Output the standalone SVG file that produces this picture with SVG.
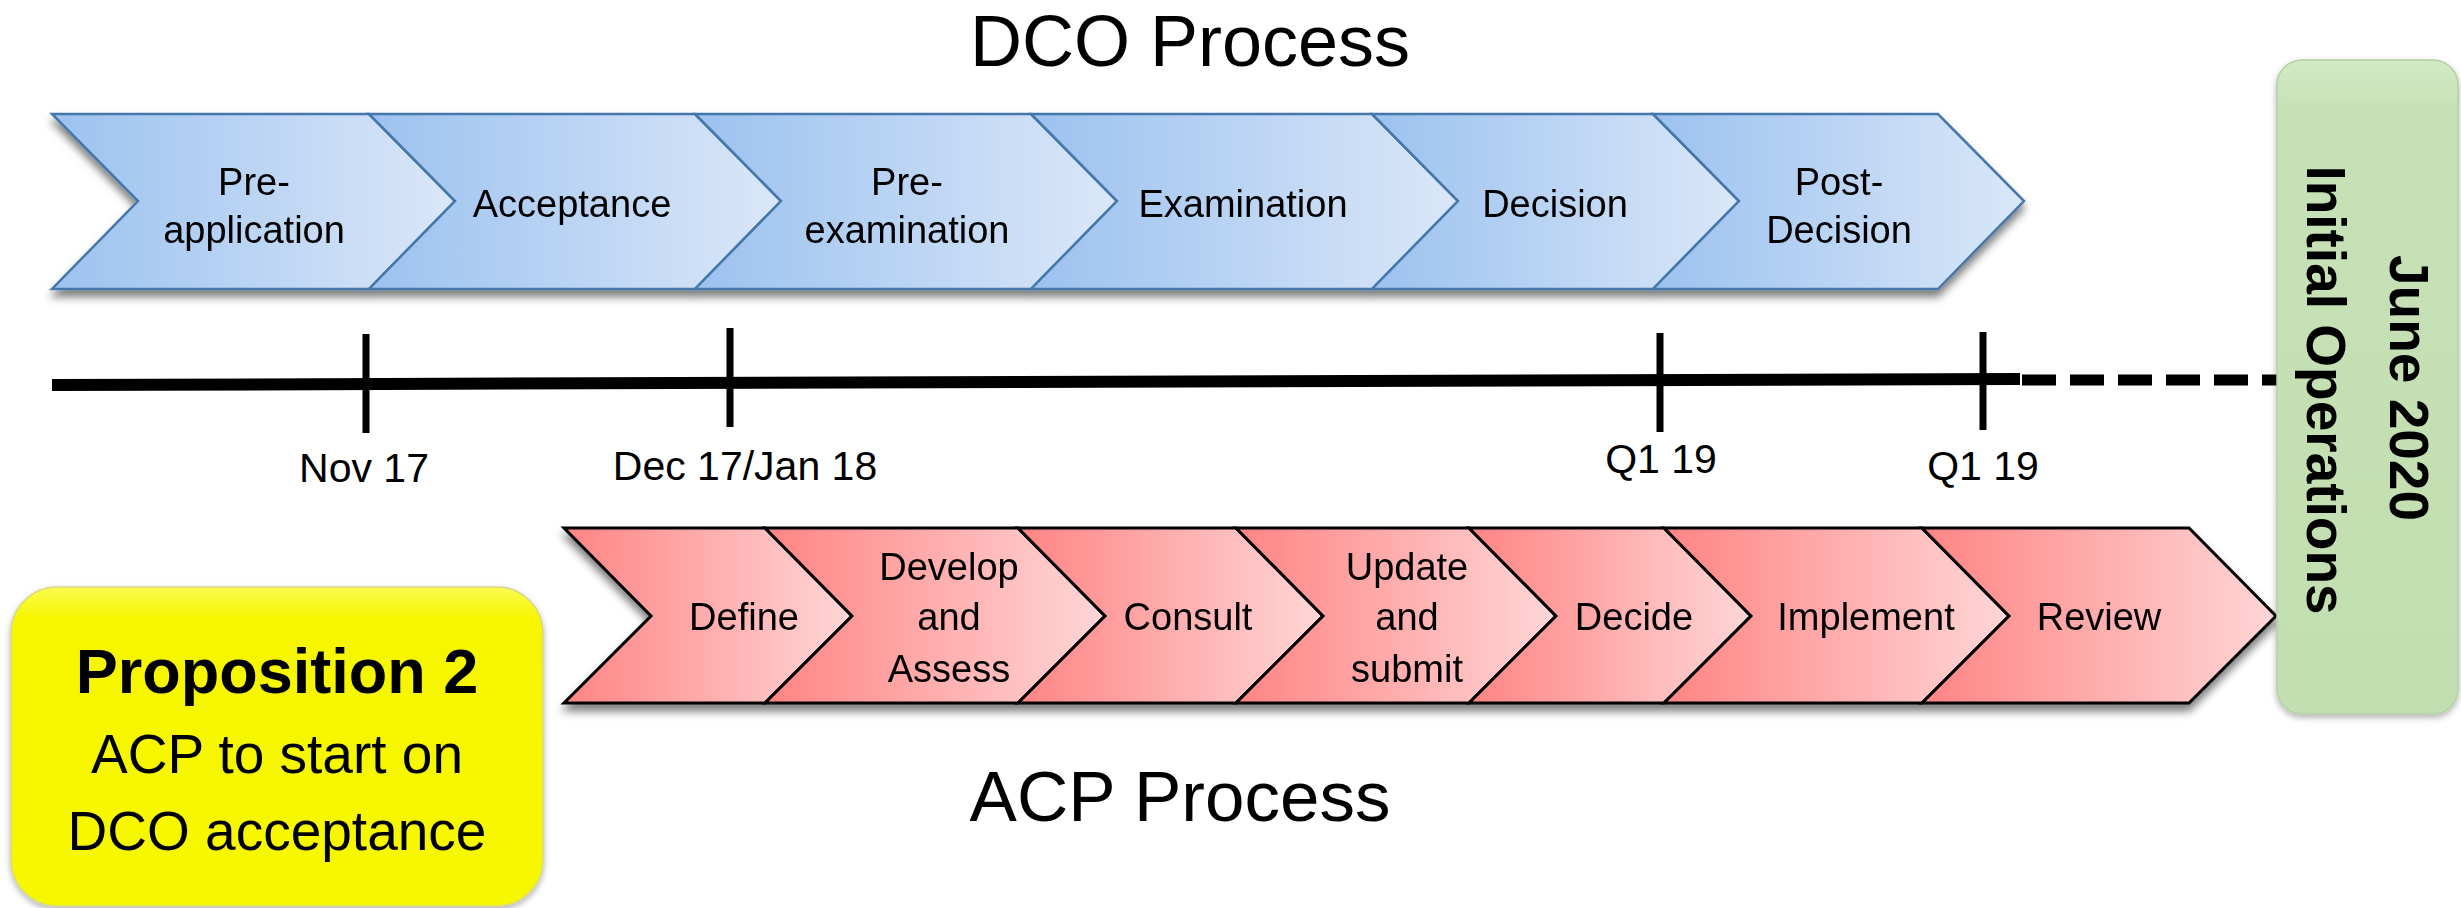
<svg xmlns="http://www.w3.org/2000/svg" width="2461" height="908" viewBox="0 0 2461 908">
<style>
text{font-family:"Liberation Sans",Arial,sans-serif;fill:#000}
.lbl{font-size:38px;text-anchor:middle}
.date{font-size:41px;text-anchor:middle}
.title{font-size:72px;text-anchor:middle}
.blue{fill:url(#gBlue);stroke:#4577aa;stroke-width:2.5;stroke-linejoin:miter}
.red{fill:url(#gRed);stroke:#000;stroke-width:3;stroke-linejoin:miter}
.tick{stroke:#000;stroke-width:7}
.green{font-size:55px;font-weight:bold;text-anchor:middle}
</style>
<defs>
<linearGradient id="gBlue" x1="0" y1="0" x2="1" y2="0">
<stop offset="0" stop-color="#9cc2ef"/>
<stop offset="1" stop-color="#dae7f8"/>
</linearGradient>
<linearGradient id="gRed" x1="0" y1="0" x2="1" y2="0">
<stop offset="0" stop-color="#ff8484"/>
<stop offset="1" stop-color="#ffd6d6"/>
</linearGradient>
<linearGradient id="gGreen" x1="0" y1="0" x2="0" y2="1">
<stop offset="0" stop-color="#d3eac5"/>
<stop offset="0.08" stop-color="#c6e1b6"/>
<stop offset="1" stop-color="#c2dfb1"/>
</linearGradient>
<linearGradient id="gYellow" x1="0" y1="0" x2="0" y2="1">
<stop offset="0" stop-color="#fbfb50"/>
<stop offset="0.1" stop-color="#f6f600"/>
<stop offset="1" stop-color="#f7f700"/>
</linearGradient>
<filter id="sh" x="-10%" y="-10%" width="120%" height="130%">
<feDropShadow dx="0" dy="7" stdDeviation="4" flood-color="#000" flood-opacity="0.5"/>
</filter>
<filter id="shSoft" x="-10%" y="-10%" width="120%" height="120%">
<feDropShadow dx="0" dy="3" stdDeviation="3" flood-color="#000" flood-opacity="0.3"/>
</filter>
</defs>

<text id="title-dco" class="title" x="1190" y="66">DCO Process</text>
<text id="title-acp" class="title" x="1180" y="821" style="font-size:71px">ACP Process</text>

<g id="dco-chevrons" filter="url(#sh)">
<g id="dco-preapplication">
<polygon class="blue" points="52,114 369,114 455,201 369,289 52,289 138,201"/>
<text class="lbl" x="254" y="195">Pre-</text>
<text class="lbl" x="254" y="243">application</text>
</g>
<g id="dco-acceptance">
<polygon class="blue" points="369,114 695,114 781,201 695,289 369,289 455,201"/>
<text class="lbl" x="572" y="217">Acceptance</text>
</g>
<g id="dco-preexamination">
<polygon class="blue" points="695,114 1031,114 1117,201 1031,289 695,289 781,201"/>
<text class="lbl" x="907" y="195">Pre-</text>
<text class="lbl" x="907" y="243">examination</text>
</g>
<g id="dco-examination">
<polygon class="blue" points="1031,114 1372,114 1458,201 1372,289 1031,289 1117,201"/>
<text class="lbl" x="1243" y="217">Examination</text>
</g>
<g id="dco-decision">
<polygon class="blue" points="1372,114 1653,114 1739,201 1653,289 1372,289 1458,201"/>
<text class="lbl" x="1555" y="217">Decision</text>
</g>
<g id="dco-postdecision">
<polygon class="blue" points="1653,114 1938,114 2024,201 1938,289 1653,289 1739,201"/>
<text class="lbl" x="1839" y="195">Post-</text>
<text class="lbl" x="1839" y="243">Decision</text>
</g>
</g>

<g id="timeline">
<line x1="52" y1="385" x2="2020" y2="379" stroke="#000" stroke-width="12"/>
<line x1="2022" y1="380" x2="2277" y2="380" stroke="#000" stroke-width="11" stroke-dasharray="34,14"/>
<line class="tick" x1="366" y1="334" x2="366" y2="433"/>
<line class="tick" x1="730" y1="328" x2="730" y2="427"/>
<line class="tick" x1="1660" y1="333" x2="1660" y2="432"/>
<line class="tick" x1="1983" y1="332" x2="1983" y2="430"/>
<text class="date" x="364" y="482">Nov 17</text>
<text class="date" x="745" y="480">Dec 17/Jan 18</text>
<text class="date" x="1661" y="473">Q1 19</text>
<text class="date" x="1983" y="480">Q1 19</text>
</g>

<g id="acp-chevrons" filter="url(#sh)">
<g id="acp-define">
<polygon class="red" points="564,528 765,528 852,616 765,703 564,703 651,616"/>
<text class="lbl" x="744" y="630">Define</text>
</g>
<g id="acp-develop">
<polygon class="red" points="765,528 1018,528 1105,616 1018,703 765,703 852,616"/>
<text class="lbl" x="949" y="580">Develop</text>
<text class="lbl" x="949" y="630">and</text>
<text class="lbl" x="949" y="682">Assess</text>
</g>
<g id="acp-consult">
<polygon class="red" points="1018,528 1236,528 1323,616 1236,703 1018,703 1105,616"/>
<text class="lbl" x="1188" y="630">Consult</text>
</g>
<g id="acp-update">
<polygon class="red" points="1236,528 1469,528 1556,616 1469,703 1236,703 1323,616"/>
<text class="lbl" x="1407" y="580">Update</text>
<text class="lbl" x="1407" y="630">and</text>
<text class="lbl" x="1407" y="682">submit</text>
</g>
<g id="acp-decide">
<polygon class="red" points="1469,528 1664,528 1751,616 1664,703 1469,703 1556,616"/>
<text class="lbl" x="1634" y="630">Decide</text>
</g>
<g id="acp-implement">
<polygon class="red" points="1664,528 1922,528 2009,616 1922,703 1664,703 1751,616"/>
<text class="lbl" x="1866" y="630">Implement</text>
</g>
<g id="acp-review">
<polygon class="red" points="1922,528 2189,528 2276,616 2189,703 1922,703 2009,616"/>
<text class="lbl" x="2099" y="630">Review</text>
</g>
</g>

<g id="milestone-initial-operations">
<rect x="2277" y="60" width="181" height="654" rx="25" ry="25" fill="url(#gGreen)" stroke="#b5cfa5" stroke-width="1.5" filter="url(#shSoft)"/>
<text class="green" transform="translate(2390,388) rotate(90)">June 2020</text>
<text class="green" transform="translate(2307,390) rotate(90)">Initial Operations</text>
</g>

<g id="proposition-2">
<rect x="11" y="587" width="532" height="319" rx="46" ry="46" fill="url(#gYellow)" stroke="#d6d68a" stroke-width="1.5" filter="url(#shSoft)"/>
<text x="277" y="693" style="font-size:63px;font-weight:bold;text-anchor:middle">Proposition 2</text>
<text x="277" y="773" style="font-size:55px;text-anchor:middle">ACP to start on</text>
<text x="277" y="850" style="font-size:55px;text-anchor:middle">DCO acceptance</text>
</g>
</svg>
